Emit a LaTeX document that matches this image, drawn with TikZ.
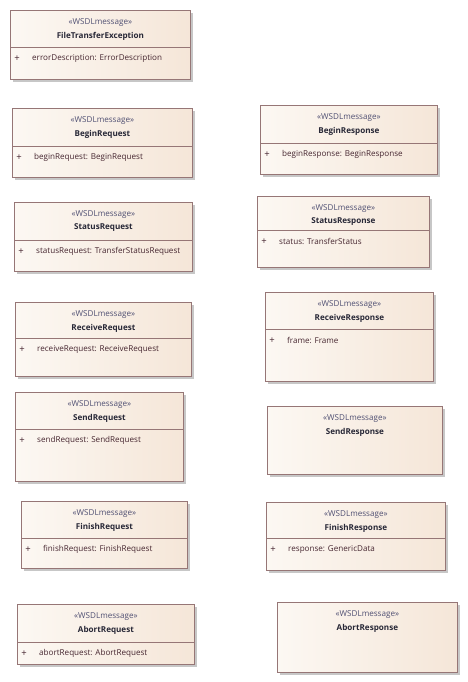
\documentclass[tikz,border=0pt]{standalone}
\usepackage{fontspec}
\setmainfont{Open Sans}
\usetikzlibrary{calc,shadows}
\definecolor{bordc}{RGB}{150,118,118}
\definecolor{fillL}{RGB}{252,248,243}
\definecolor{fillR}{RGB}{245,230,216}
\definecolor{stc}{RGB}{80,80,115}
\definecolor{namec}{RGB}{40,40,55}
\definecolor{attc}{RGB}{70,38,48}
\tikzset{
  msg/.style={draw=bordc, line width=0.8pt, left color=fillL, right color=fillR, shading angle=90,
    drop shadow={shadow xshift=3pt, shadow yshift=-3pt, fill=black!22, opacity=1}, inner sep=0pt},
  sepline/.style={draw=bordc, line width=0.8pt},
  stereo/.style={font=\fontsize{8.1}{9.5}\selectfont, text=stc, inner sep=0pt},
  mname/.style={font=\fontsize{8.1}{9.5}\selectfont\bfseries, text=namec, inner sep=0pt},
  attr/.style={font=\fontsize{8.1}{9.5}\selectfont, text=attc, inner sep=0pt},
  plussign/.style={font=\fontsize{9.5}{10}\selectfont, text=attc, inner sep=0pt},
}
\newcommand{\wsdlbox}[8]{%
  \node[msg, anchor=north west, minimum width=#4pt-#2pt, minimum height=#5pt-#3pt] (#1) at (#2,#3) {};
  \node[stereo] (#1-st) at ($(#1.north)+(0,12.5)$) {«WSDLmessage»};
  \node[mname] (#1-nm) at ($(#1.north)+(0,26)$) {#7};
  \ifx&#6&\else
    \draw[sepline] (#2,#6) -- (#4,#6);
    \node[plussign, anchor=center] (#1-pl) at (#2+7,#6+11.5) {+};
    \node[attr, anchor=west] (#1-at) at (#2+22,#6+11.5) {#8};
  \fi
}
\begin{document}
\begin{tikzpicture}[x=1pt,y=-1pt]
\useasboundingbox (0,0) rectangle (467,682);
\wsdlbox{fte}{10}{10}{190}{79}{47}{FileTransferException}{errorDescription: ErrorDescription}
\wsdlbox{breq}{12}{108}{192}{177}{146}{BeginRequest}{beginRequest: BeginRequest}
\wsdlbox{bres}{260}{105}{437}{174}{143}{BeginResponse}{beginResponse: BeginResponse}
\wsdlbox{sreq}{14}{202}{192}{271}{240}{StatusRequest}{statusRequest: TransferStatusRequest}
\wsdlbox{sres}{257}{196}{429}{267}{230}{StatusResponse}{status: TransferStatus}
\wsdlbox{rreq}{15}{302}{191}{376}{338}{ReceiveRequest}{receiveRequest: ReceiveRequest}
\wsdlbox{rres}{265}{292}{433}{381}{329}{ReceiveResponse}{frame: Frame}
\wsdlbox{sdreq}{15}{392}{183}{481}{429}{SendRequest}{sendRequest: SendRequest}
\wsdlbox{sdres}{267}{406}{442}{474}{}{SendResponse}{}
\wsdlbox{freq}{21}{501}{187}{568}{538}{FinishRequest}{finishRequest: FinishRequest}
\wsdlbox{fres}{266}{502}{445}{570}{538}{FinishResponse}{response: GenericData}
\wsdlbox{areq}{17}{604}{194}{664}{642}{AbortRequest}{abortRequest: AbortRequest}
\wsdlbox{ares}{277}{602}{457}{672}{}{AbortResponse}{}
\end{tikzpicture}
\end{document}
